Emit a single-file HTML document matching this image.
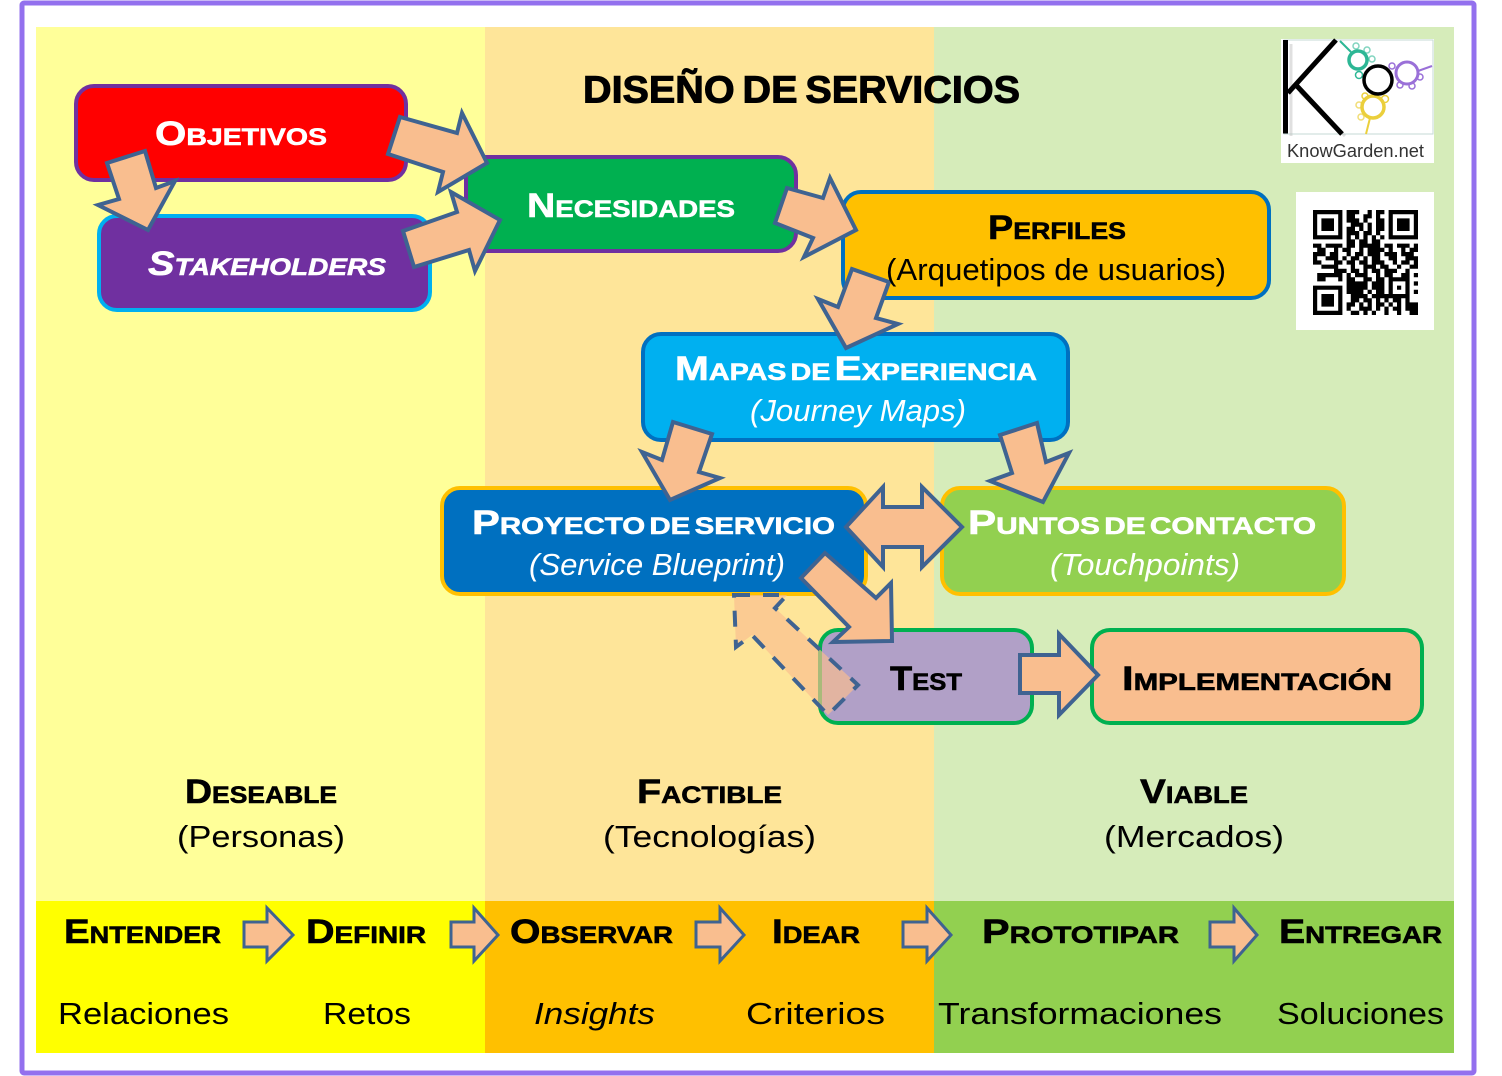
<!DOCTYPE html>
<html lang="es"><head><meta charset="utf-8"><title>Diseño de servicios</title>
<style>
html,body{margin:0;padding:0;background:#fff;width:1502px;height:1076px;overflow:hidden}
svg{display:block}
text{font-family:"Liberation Sans",sans-serif}
.h{font-weight:700;font-variant:small-caps;font-size:34px;stroke:#000;stroke-width:.6;word-spacing:-6px}
.r{font-size:31px}
.w{fill:#fff}
.h.w{stroke:#fff}
.a{fill:#F9BE8F;stroke:#3F6391;stroke-width:4;stroke-linejoin:miter}
.b{fill:#F9BE8F;stroke:#3F6391;stroke-width:3}
</style></head><body>
<svg width="1502" height="1076" viewBox="0 0 1502 1076" xmlns="http://www.w3.org/2000/svg">
<rect width="1502" height="1076" fill="#fff"/>
<rect x="22" y="3" width="1452" height="1070" fill="#fff" stroke="#9370EE" stroke-width="5" rx="2"/>
<rect x="36" y="27" width="449" height="874" fill="#FFFF99"/>
<rect x="485" y="27" width="449" height="874" fill="#FEE599"/>
<rect x="934" y="27" width="520" height="874" fill="#D6ECBA"/>
<rect x="36" y="901" width="449" height="152" fill="#FFFF00"/>
<rect x="485" y="901" width="449" height="152" fill="#FFC000"/>
<rect x="934" y="901" width="520" height="152" fill="#92D050"/>

<!-- logo -->
<rect x="1281" y="39" width="153" height="124" fill="#fff"/>
<rect x="1284" y="40" width="149" height="94" fill="none" stroke="#C5DAD6" stroke-width="1"/>
<path d="M1291 44V136M1300 92L1345 136" fill="none" stroke="#bbb" stroke-width="3" opacity=".45"/>
<path d="M1285.500 40V133.500M1288 93L1336 40M1296 85L1342 134" fill="none" stroke="#000" stroke-width="5"/>
<g fill="none">
<g stroke="#2DB795"><circle cx="1358" cy="60" r="9" stroke-width="3.500"/><path d="M1340 41L1351 52" stroke-width="2"/><circle cx="1356" cy="46" r="3" stroke-width="1.500" opacity=".6"/><circle cx="1367" cy="50" r="3" stroke-width="1.500" opacity=".6"/><circle cx="1372" cy="59" r="3" stroke-width="1.500" opacity=".6"/><circle cx="1359" cy="75" r="3.500" stroke-width="1.500"/></g>
<g stroke="#9A70D8"><circle cx="1407" cy="73" r="11" stroke-width="3"/><path d="M1418 71L1432 66" stroke-width="2"/><circle cx="1392" cy="66" r="3" stroke-width="1.500"/><circle cx="1400" cy="85" r="3" stroke-width="1.500"/><circle cx="1412" cy="86" r="3" stroke-width="1.500"/><circle cx="1420" cy="77" r="3" stroke-width="1.500"/></g>
<g stroke="#EBCF3C"><circle cx="1373" cy="107" r="11" stroke-width="3.500"/><path d="M1370 118L1366 134" stroke-width="2"/><circle cx="1359" cy="105" r="3" stroke-width="1.500" opacity=".7"/><circle cx="1361" cy="117" r="3" stroke-width="1.500" opacity=".7"/><circle cx="1365" cy="96" r="3" stroke-width="1.500"/><circle cx="1385" cy="99" r="3.500" stroke-width="1.500"/></g>
<circle cx="1378" cy="80" r="14" stroke="#000" stroke-width="3.500"/>
</g>
<text x="1287" y="157" font-size="18" fill="#333" textLength="137" lengthAdjust="spacingAndGlyphs">KnowGarden.net</text>

<!-- QR -->
<rect x="1296" y="192" width="138" height="138" fill="#fff"/>
<path transform="translate(1313 210) scale(4.2)" fill="none" stroke="#000" stroke-width="1" d="M0 .5h7M8 .5h3M13 .5h1M15 .5h2M18 .5h7
M0 1.5h1M6 1.5h1M8 1.5h2M12 1.5h2M15 1.5h1M18 1.5h1M24 1.5h1
M0 2.5h1M2 2.5h3M6 2.5h1M8 2.5h3M12 2.5h1M15 2.5h2M18 2.5h1M20 2.5h3M24 2.5h1
M0 3.5h1M2 3.5h3M6 3.5h1M9 3.5h3M13 3.5h1M15 3.5h2M18 3.5h1M20 3.5h3M24 3.5h1
M0 4.5h1M2 4.5h3M6 4.5h1M8 4.5h2M11 4.5h1M13 4.5h1M15 4.5h2M18 4.5h1M20 4.5h3M24 4.5h1
M0 5.5h1M6 5.5h1M8 5.5h3M12 5.5h2M15 5.5h1M18 5.5h1M24 5.5h1
M0 6.5h7M8 6.5h1M10 6.5h1M12 6.5h1M14 6.5h1M16 6.5h1M18 6.5h7
M8 7.5h2M11 7.5h2M14 7.5h2
M0 8.5h2M3 8.5h4M8 8.5h2M11 8.5h5M17 8.5h2M20 8.5h3M24 8.5h1
M1 9.5h2M5 9.5h1M7 9.5h2M11 9.5h1M13 9.5h4M18 9.5h1M21 9.5h1M23 9.5h2
M0 10.5h3M4 10.5h2M8 10.5h1M10 10.5h2M13 10.5h3M17 10.5h3M21 10.5h3
M0 11.5h1M3 11.5h3M7 11.5h1M9 11.5h2M12 11.5h1M14 11.5h2M18 11.5h2M22 11.5h3
M0 12.5h2M5 12.5h2M8 12.5h2M11 12.5h2M14 12.5h3M19 12.5h1M21 12.5h2M24 12.5h1
M2 13.5h4M9 13.5h1M12 13.5h3M16 13.5h2M20 13.5h1M23 13.5h2
M5 14.5h3M9 14.5h2M12 14.5h1M14 14.5h2M17 14.5h3M22 14.5h1
M1 15.5h2M3 15.5h4M8 15.5h1M10 15.5h3M15 15.5h1M17 15.5h2M21 15.5h2M24 15.5h1
M1 16.5h2M6 16.5h1M8 16.5h2M12 16.5h2M15 16.5h2M18 16.5h5
M8 17.5h5M14 17.5h3M18 17.5h1M22 17.5h1M24 17.5h1
M0 18.5h7M8 18.5h5M14 18.5h3M18 18.5h1M20 18.5h1M22 18.5h1
M0 19.5h1M6 19.5h1M8 19.5h4M13 19.5h1M15 19.5h2M18 19.5h1M22 19.5h1M24 19.5h1
M0 20.5h1M2 20.5h3M6 20.5h1M9 20.5h4M14 20.5h9
M0 21.5h1M2 21.5h3M6 21.5h1M9 21.5h2M12 21.5h2M15 21.5h1M17 21.5h1M19 21.5h2M22 21.5h1
M0 22.5h1M2 22.5h3M6 22.5h1M8 22.5h2M11 22.5h1M13 22.5h1M15 22.5h2M18 22.5h1M20 22.5h1M22 22.5h3
M0 23.5h1M6 23.5h1M8 23.5h1M11 23.5h3M15 23.5h1M17 23.5h1M19 23.5h2M22 23.5h3
M0 24.5h7M9 24.5h2M12 24.5h1M14 24.5h1M17 24.5h1M20 24.5h1M23 24.5h2"/>

<!-- boxes -->
<g stroke-width="4">
<rect x="76" y="86" width="330" height="94" rx="18" fill="#FF0000" stroke="#7030A0"/>
<rect x="99" y="216" width="331" height="94" rx="18" fill="#7030A0" stroke="#00B0F0"/>
<rect x="466" y="157" width="330" height="94" rx="18" fill="#00B050" stroke="#7030A0"/>
<rect x="843" y="192" width="426" height="106" rx="18" fill="#FFC000" stroke="#0070C0"/>
<rect x="643" y="334" width="425" height="106" rx="18" fill="#00B0F0" stroke="#0070C0"/>
<rect x="442" y="488" width="424" height="106" rx="18" fill="#0070C0" stroke="#FFC000"/>
<rect x="942" y="488" width="402" height="106" rx="18" fill="#92D050" stroke="#FFC000"/>
<rect x="820" y="630" width="212" height="93" rx="18" fill="#B1A0C7" stroke="#00B050"/>
<rect x="1092" y="630" width="330" height="93" rx="18" fill="#F9BE8F" stroke="#00B050"/>
</g>

<!-- arrows -->
<polygon class="a" points="400,117 457,133 462,113 487,163 438,192 443,172 388,154"/>
<polygon class="a" points="145,151 156,188 175,181 148,230 98,205 119,199 107,163"/>
<polygon class="a" points="403,231 457,212 451,192 500,220 475,271 469,250 414,267"/>
<polygon class="a" points="787,188 823,198 830,178 856,230 804,257 813,238 775,223"/>
<polygon class="a" points="852,269 889,282 876,318 898,324 846,348 818,299 838,307"/>
<polygon class="a" points="673,422 712,434 699,472 720,478 670,500 642,452 662,460"/>
<polygon class="a" points="1000,435 1037,423 1046,462 1069,453 1043,502 990,481 1012,473"/>
<polygon class="a" points="846,527 883,487 883,507 922,507 922,487 962,527 922,567 922,547 883,547 883,567"/>
<polygon points="734,595 787,595 775,608 858,685 828,715 752,635 736,647" fill="#F9BE8F" fill-opacity=".68" stroke="#3F6391" stroke-width="4" stroke-dasharray="16 13"/>
<polygon class="a" points="825,553 876,598 891,583 892,641 833,642 849,627 801,578"/>
<polygon class="a" points="1020,655 1059,655 1059,634 1098,675 1059,715 1059,693 1020,693"/>

<polygon class="b" points="244,922 267,922 267,908 293,935 267,961 267,947 244,947"/>
<polygon class="b" points="451,922 474,922 474,908 498,935 474,961 474,947 451,947"/>
<polygon class="b" points="696,922 720,922 720,908 744,935 720,961 720,947 696,947"/>
<polygon class="b" points="903,922 927,922 927,908 951,935 927,961 927,947 903,947"/>
<polygon class="b" points="1210,922 1234,922 1234,908 1257,935 1234,961 1234,947 1210,947"/>

<!-- text -->
<text x="583" y="102.500" font-size="38" font-weight="700" stroke="#000" stroke-width="1" word-spacing="-3" textLength="437" lengthAdjust="spacingAndGlyphs">DISEÑO DE SERVICIOS</text>
<text class="h w" x="155" y="145" textLength="172" lengthAdjust="spacingAndGlyphs">Objetivos</text>
<text class="h w" x="148" y="275" font-style="italic" textLength="238" lengthAdjust="spacingAndGlyphs">Stakeholders</text>
<text class="h w" x="527" y="217" textLength="208" lengthAdjust="spacingAndGlyphs">Necesidades</text>
<text class="h" x="988" y="239" textLength="138" lengthAdjust="spacingAndGlyphs">Perfiles</text>
<text class="r" x="886" y="280" textLength="340" lengthAdjust="spacingAndGlyphs">(Arquetipos de usuarios)</text>
<text class="h w" x="675" y="380" textLength="362" lengthAdjust="spacingAndGlyphs">Mapas de Experiencia</text>
<text class="r w" x="750" y="421" font-style="italic" textLength="216" lengthAdjust="spacingAndGlyphs">(Journey Maps)</text>
<text class="h w" x="472" y="534" textLength="363" lengthAdjust="spacingAndGlyphs">Proyecto de servicio</text>
<text class="r w" x="529" y="575" font-style="italic" textLength="256" lengthAdjust="spacingAndGlyphs">(Service Blueprint)</text>
<text class="h w" x="968" y="534" textLength="348" lengthAdjust="spacingAndGlyphs">Puntos de contacto</text>
<text class="r w" x="1050" y="575" font-style="italic" textLength="190" lengthAdjust="spacingAndGlyphs">(Touchpoints)</text>
<text class="h" x="890" y="690" textLength="72" lengthAdjust="spacingAndGlyphs">Test</text>
<text class="h" x="1122" y="690" textLength="270" lengthAdjust="spacingAndGlyphs">Implementación</text>

<text class="h" x="185" y="803" textLength="152" lengthAdjust="spacingAndGlyphs">Deseable</text>
<text class="r" x="177" y="847" textLength="168" lengthAdjust="spacingAndGlyphs">(Personas)</text>
<text class="h" x="637" y="803" textLength="145" lengthAdjust="spacingAndGlyphs">Factible</text>
<text class="r" x="603" y="847" textLength="213" lengthAdjust="spacingAndGlyphs">(Tecnologías)</text>
<text class="h" x="1140" y="803" textLength="108" lengthAdjust="spacingAndGlyphs">Viable</text>
<text class="r" x="1104" y="847" textLength="180" lengthAdjust="spacingAndGlyphs">(Mercados)</text>

<text class="h" x="64" y="943" textLength="157" lengthAdjust="spacingAndGlyphs">Entender</text>
<text class="h" x="306" y="943" textLength="120" lengthAdjust="spacingAndGlyphs">Definir</text>
<text class="h" x="510" y="943" textLength="163" lengthAdjust="spacingAndGlyphs">Observar</text>
<text class="h" x="772" y="943" textLength="88" lengthAdjust="spacingAndGlyphs">Idear</text>
<text class="h" x="982" y="943" textLength="197" lengthAdjust="spacingAndGlyphs">Prototipar</text>
<text class="h" x="1279" y="943" textLength="163" lengthAdjust="spacingAndGlyphs">Entregar</text>

<text class="r" x="58" y="1024" textLength="171" lengthAdjust="spacingAndGlyphs">Relaciones</text>
<text class="r" x="323" y="1024" textLength="88" lengthAdjust="spacingAndGlyphs">Retos</text>
<text class="r" x="534" y="1024" font-style="italic" textLength="121" lengthAdjust="spacingAndGlyphs">Insights</text>
<text class="r" x="746" y="1024" textLength="139" lengthAdjust="spacingAndGlyphs">Criterios</text>
<text class="r" x="938" y="1024" textLength="284" lengthAdjust="spacingAndGlyphs">Transformaciones</text>
<text class="r" x="1277" y="1024" textLength="167" lengthAdjust="spacingAndGlyphs">Soluciones</text>
</svg>
</body></html>
